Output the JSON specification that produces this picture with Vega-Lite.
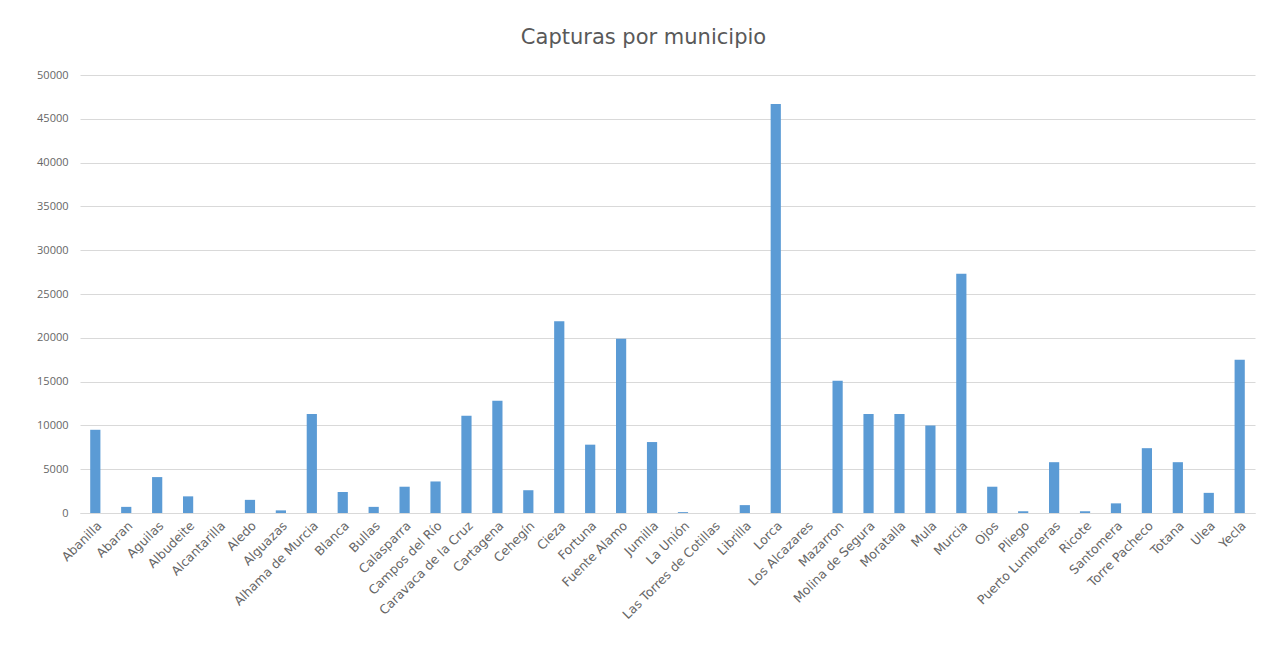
{
  "$schema": "https://vega.github.io/schema/vega-lite/v6.json",
  "width": 1175,
  "height": 438,
  "autosize": {"type": "none"},
  "padding": {"left": 80, "top": 75, "right": 33, "bottom": 141},
  "background": "white",
  "title": {"text": "Capturas por municipio", "fontSize": 21, "font": "DejaVu Sans", "fontWeight": "normal", "color": "#595959", "offset": 21, "anchor": "middle", "dx": -24},
  "config": {"view": {"stroke": null}, "font": "Open Sans"},
  "data": {"values": [
    {"m": "Abanilla", "v": 9500},
    {"m": "Abaran", "v": 700},
    {"m": "Aguilas", "v": 4100},
    {"m": "Albudeite", "v": 1900},
    {"m": "Alcantarilla", "v": 0},
    {"m": "Aledo", "v": 1500},
    {"m": "Alguazas", "v": 300},
    {"m": "Alhama de Murcia", "v": 11300},
    {"m": "Blanca", "v": 2400},
    {"m": "Bullas", "v": 700},
    {"m": "Calasparra", "v": 3000},
    {"m": "Campos del Río", "v": 3600},
    {"m": "Caravaca de la Cruz", "v": 11100},
    {"m": "Cartagena", "v": 12800},
    {"m": "Cehegín", "v": 2600},
    {"m": "Cieza", "v": 21900},
    {"m": "Fortuna", "v": 7800},
    {"m": "Fuente Alamo", "v": 19900},
    {"m": "Jumilla", "v": 8100},
    {"m": "La Unión", "v": 100},
    {"m": "Las Torres de Cotillas", "v": 0},
    {"m": "Librilla", "v": 900},
    {"m": "Lorca", "v": 46700},
    {"m": "Los Alcazares", "v": 0},
    {"m": "Mazarron", "v": 15100},
    {"m": "Molina de Segura", "v": 11300},
    {"m": "Moratalla", "v": 11300},
    {"m": "Mula", "v": 10000},
    {"m": "Murcia", "v": 27300},
    {"m": "Ojos", "v": 3000},
    {"m": "Pliego", "v": 200},
    {"m": "Puerto Lumbreras", "v": 5800},
    {"m": "Ricote", "v": 200},
    {"m": "Santomera", "v": 1100},
    {"m": "Torre Pacheco", "v": 7400},
    {"m": "Totana", "v": 5800},
    {"m": "Ulea", "v": 2300},
    {"m": "Yecla", "v": 17500}
  ]},
  "mark": {"type": "bar", "color": "#5B9BD5"},
  "encoding": {
    "x": {"field": "m", "type": "nominal", "sort": null, "title": null,
      "scale": {"paddingInner": 0.67, "paddingOuter": 0.33},
      "axis": {"labelAngle": -45, "labelFontSize": 12.5, "labelFont": "DejaVu Sans", "labelColor": "#666666", "ticks": false, "domainColor": "#D9D9D9", "labelPadding": 6, "grid": false}},
    "y": {"field": "v", "type": "quantitative", "title": null,
      "scale": {"domain": [0, 50000], "nice": false},
      "axis": {"values": [0,5000,10000,15000,20000,25000,30000,35000,40000,45000,50000], "format": "d", "labelFontSize": 11, "labelColor": "#666666", "domain": false, "ticks": false, "gridColor": "#D9D9D9", "labelPadding": 12}}
  }
}
